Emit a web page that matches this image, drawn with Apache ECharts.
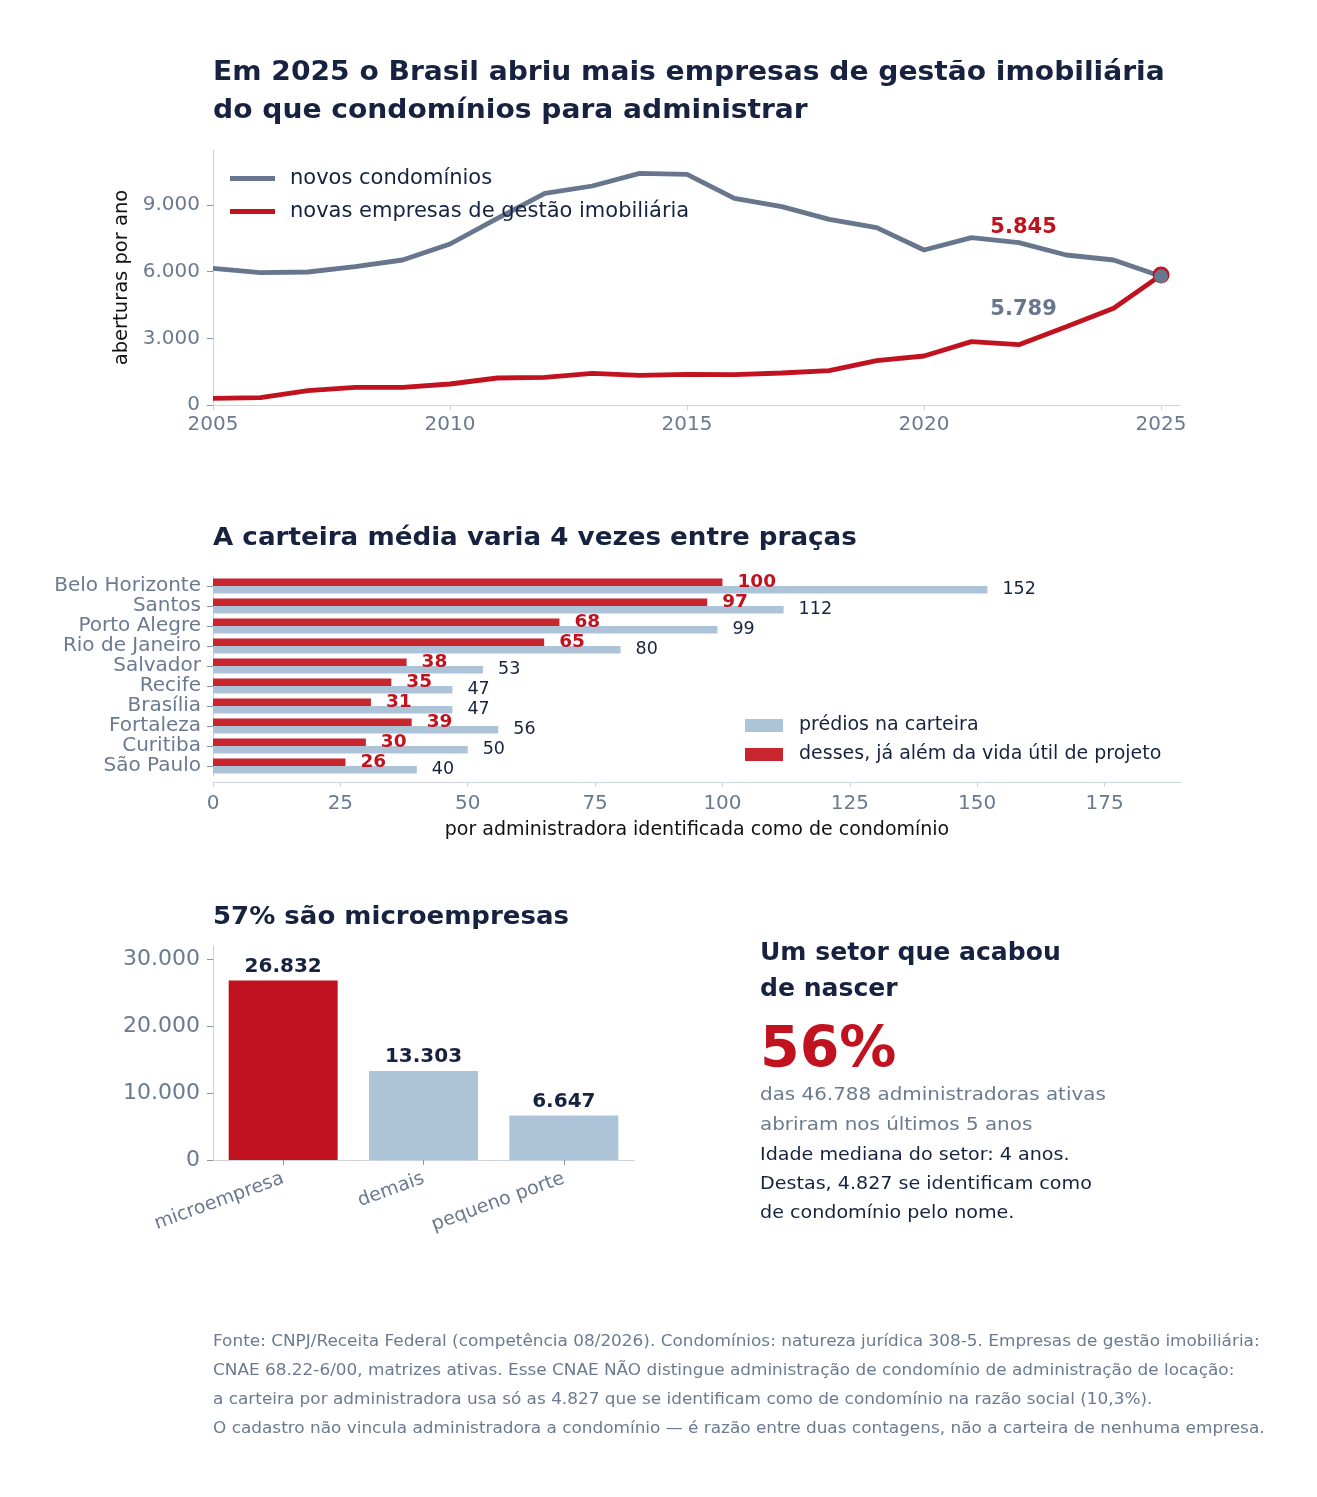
<!DOCTYPE html>
<html>
<head>
<meta charset="utf-8">
<script src="https://cdn.jsdelivr.net/npm/echarts@6/dist/echarts.min.js"></script>
<style>
  html, body { margin: 0; padding: 0; background: #fff; }
  #chart { width: 1317px; height: 1497px; }
</style>
</head>
<body>
<div id="chart"></div>
<script>
// dados
const anos = [2005, 2006, 2007, 2008, 2009, 2010, 2011, 2012, 2013, 2014, 2015,
              2016, 2017, 2018, 2019, 2020, 2021, 2022, 2023, 2024, 2025];
const novosCondominios = [6150, 5955, 5985, 6225, 6525, 7245, 8400, 9525, 9855, 10425, 10380,
                          9300, 8925, 8355, 7980, 6975, 7530, 7305, 6750, 6525, 5789];
const novasEmpresas = [300, 330, 645, 795, 795, 945, 1215, 1245, 1425, 1335, 1380,
                       1365, 1440, 1545, 1995, 2205, 2850, 2715, 3525, 4350, 5845];
const ticksAnos = [2005, 2010, 2015, 2020, 2025];
const ticksAberturas = [0, 3000, 6000, 9000];

const pracas = ['Belo Horizonte', 'Santos', 'Porto Alegre', 'Rio de Janeiro', 'Salvador',
                'Recife', 'Brasília', 'Fortaleza', 'Curitiba', 'São Paulo'];
const prediosCarteira = [152, 112, 99, 80, 53, 47, 47, 56, 50, 40];
const alemVidaUtil = [100, 97, 68, 65, 38, 35, 31, 39, 30, 26];
const ticksCarteira = [0, 25, 50, 75, 100, 125, 150, 175];

const portes = ['microempresa', 'demais', 'pequeno porte'];
const empresasPorte = [26832, 13303, 6647];
const ticksPorte = [0, 10000, 20000, 30000];

const NAVY = '#16223f';
const GRAY = '#67768c';
const LABEL = '#6b7a90';
const RED = '#c1121f';
const RED_BAR = '#c8252f';
const BLUE = '#adc3d8';
const AXIS = '#cdd4de';
const TICK = '#8a96a8';
const FONT = 'DejaVu Sans';

// separador de milhar à brasileira
const fmt = n => String(n).replace(/\B(?=(\d{3})+(?!\d))/g, '.');

const ultimo = anos.length - 1;

// texto solto: (x, y) = início da linha, no meio da altura; sx alarga um pouco
const texto = (x, y, txt, size, color, weight, sx) => ({
    type: 'text', x: x, y: y, scaleX: sx || 1,
    style: { text: txt, x: 0, y: 0, fill: color, verticalAlign: 'middle', align: 'left',
             font: (weight || 'normal') + ' ' + size + 'px "' + FONT + '"' }
});

const chart = echarts.init(document.getElementById('chart'));

const eixoBase = {
    axisLine: { show: true, lineStyle: { color: AXIS, width: 1.2 } },
    splitLine: { show: false }
};

const option = {
    animation: false,
    backgroundColor: '#fff',
    textStyle: { fontFamily: FONT },
    grid: [
        { left: 213, top: 150, width: 967, height: 255 },
        { left: 213, top: 576, width: 968, height: 200 },
        { left: 213, top: 946, width: 421, height: 214 }
    ],
    legend: [
        {
            data: ['novos condomínios', 'novas empresas de gestão imobiliária'],
            orient: 'vertical', left: 230, top: 168, padding: 0,
            icon: 'rect', itemWidth: 45, itemHeight: 5, itemGap: 12,
            selectedMode: false,
            textStyle: { fontSize: 21, color: NAVY, padding: [0, 0, 0, 10] }
        },
        {
            data: ['prédios na carteira', 'desses, já além da vida útil de projeto'],
            orient: 'vertical', left: 745, top: 716, padding: 0,
            icon: 'rect', itemWidth: 38, itemHeight: 13, itemGap: 10,
            selectedMode: false,
            textStyle: { fontSize: 19, color: NAVY, padding: [0, 0, 0, 11] }
        }
    ],
    xAxis: [
        Object.assign({}, eixoBase, {
            gridIndex: 0, type: 'value', min: 2005, max: 2025.4,
            axisTick: { show: true, customValues: ticksAnos, length: 5, lineStyle: { color: AXIS } },
            axisLabel: { customValues: ticksAnos, color: LABEL, fontSize: 20, margin: 10, formatter: v => String(v) }
        }),
        Object.assign({}, eixoBase, {
            gridIndex: 1, type: 'value', min: 0, max: 190, offset: 6,
            axisTick: { show: true, customValues: ticksCarteira, length: 5, lineStyle: { color: AXIS } },
            axisLabel: { customValues: ticksCarteira, color: LABEL, fontSize: 20, margin: 12 },
            name: 'por administradora identificada como de condomínio',
            nameLocation: 'middle', nameGap: 39,
            nameTextStyle: { color: '#111', fontSize: 19 }
        }),
        Object.assign({}, eixoBase, {
            gridIndex: 2, type: 'category', data: portes,
            axisTick: { show: true, alignWithLabel: true, length: 5, lineStyle: { color: TICK } },
            axisLabel: { color: LABEL, fontSize: 19, rotate: 20, margin: 18, interval: 0 }
        })
    ],
    yAxis: [
        Object.assign({}, eixoBase, {
            gridIndex: 0, type: 'value', min: 0, max: 11475,
            axisTick: { show: true, customValues: ticksAberturas, length: 6, lineStyle: { color: TICK } },
            axisLabel: { customValues: ticksAberturas, color: LABEL, fontSize: 20, margin: 13, formatter: fmt },
            name: 'aberturas por ano', nameLocation: 'middle', nameGap: 80,
            nameTextStyle: { color: '#111', fontSize: 19.5 }
        }),
        Object.assign({}, eixoBase, {
            gridIndex: 1, type: 'category', data: pracas, inverse: true,
            axisTick: { show: true, alignWithLabel: true, length: 6, lineStyle: { color: TICK } },
            axisLabel: { color: LABEL, fontSize: 20, margin: 12, interval: 0, padding: [3, 0, 0, 0] }
        }),
        Object.assign({}, eixoBase, {
            gridIndex: 2, type: 'value', min: 0, max: 32000,
            axisTick: { show: true, customValues: ticksPorte, length: 6, lineStyle: { color: TICK } },
            axisLabel: { customValues: ticksPorte, color: LABEL, fontSize: 22, margin: 13, formatter: fmt }
        })
    ],
    series: [
        {
            name: 'novas empresas de gestão imobiliária', type: 'line',
            xAxisIndex: 0, yAxisIndex: 0,
            symbol: 'none', lineStyle: { color: RED, width: 4.8 }, itemStyle: { color: RED },
            data: anos.map((a, i) => i === ultimo
                ? { value: [a, novasEmpresas[i]], symbol: 'circle', symbolSize: 17 }
                : [a, novasEmpresas[i]]),
            markPoint: {
                symbol: 'circle', symbolSize: 0,
                label: { show: true, position: 'inside', color: RED, fontWeight: 'bold', fontSize: 21,
                         formatter: () => fmt(novasEmpresas[ultimo]) },
                data: [{ coord: [2022.1, 7990] }]
            }
        },
        {
            name: 'novos condomínios', type: 'line',
            xAxisIndex: 0, yAxisIndex: 0,
            symbol: 'none', lineStyle: { color: GRAY, width: 4.8 }, itemStyle: { color: GRAY },
            data: anos.map((a, i) => i === ultimo
                ? { value: [a, novosCondominios[i]], symbol: 'circle', symbolSize: 14 }
                : [a, novosCondominios[i]]),
            markPoint: {
                symbol: 'circle', symbolSize: 0,
                label: { show: true, position: 'inside', color: GRAY, fontWeight: 'bold', fontSize: 21,
                         formatter: () => fmt(novosCondominios[ultimo]) },
                data: [{ coord: [2022.1, 4275] }]
            }
        },
        {
            name: 'desses, já além da vida útil de projeto', type: 'bar',
            xAxisIndex: 1, yAxisIndex: 1,
            barWidth: 7.5, barGap: '0%',
            itemStyle: { color: RED_BAR },
            label: { show: true, position: 'right', distance: 15, color: RED, fontWeight: 'bold', fontSize: 18.5 },
            data: alemVidaUtil
        },
        {
            name: 'prédios na carteira', type: 'bar',
            xAxisIndex: 1, yAxisIndex: 1,
            barWidth: 7.5, barGap: '0%',
            itemStyle: { color: BLUE },
            label: { show: true, position: 'right', distance: 15, color: NAVY, fontSize: 17.5 },
            data: prediosCarteira
        },
        {
            name: 'porte', type: 'bar',
            xAxisIndex: 2, yAxisIndex: 2,
            barWidth: 109,
            label: { show: true, position: 'top', distance: 4, color: NAVY, fontWeight: 'bold', fontSize: 20,
                     formatter: p => fmt(p.value) },
            data: empresasPorte.map((v, i) => ({ value: v, itemStyle: { color: i === 0 ? RED : BLUE } }))
        }
    ],
    graphic: [
        texto(213, 73.5, 'Em 2025 o Brasil abriu mais empresas de gestão imobiliária', 26, NAVY, 'bold', 1.082),
        texto(213, 111.5, 'do que condomínios para administrar', 26, NAVY, 'bold', 1.082),
        texto(213, 538.5, 'A carteira média varia 4 vezes entre praças', 25, NAVY, 'bold', 1.047),
        texto(213, 917.5, '57% são microempresas', 25, NAVY, 'bold', 1.041),
        texto(760, 954, 'Um setor que acabou', 24, NAVY, 'bold', 1.045),
        texto(760, 990, 'de nascer', 24, NAVY, 'bold', 1.045),
        texto(760, 1052, '56%', 57, RED, 'bold'),
        texto(760, 1095, 'das 46.788 administradoras ativas', 18, LABEL, 'normal', 1.106),
        texto(760, 1125, 'abriram nos últimos 5 anos', 18, LABEL, 'normal', 1.106),
        texto(760, 1155, 'Idade mediana do setor: 4 anos.', 17.5, NAVY, 'normal', 1.092),
        texto(760, 1184, 'Destas, 4.827 se identificam como', 17.5, NAVY, 'normal', 1.092),
        texto(760, 1213, 'de condomínio pelo nome.', 17.5, NAVY, 'normal', 1.092),
        texto(213, 1341.5, 'Fonte: CNPJ/Receita Federal (competência 08/2026). Condomínios: natureza jurídica 308-5. Empresas de gestão imobiliária:', 16, LABEL, 'normal', 1.055),
        texto(213, 1370.5, 'CNAE 68.22-6/00, matrizes ativas. Esse CNAE NÃO distingue administração de condomínio de administração de locação:', 16, LABEL, 'normal', 1.055),
        texto(213, 1399.5, 'a carteira por administradora usa só as 4.827 que se identificam como de condomínio na razão social (10,3%).', 16, LABEL, 'normal', 1.055),
        texto(213, 1428.5, 'O cadastro não vincula administradora a condomínio — é razão entre duas contagens, não a carteira de nenhuma empresa.', 16, LABEL, 'normal', 1.055)
    ]
};

chart.setOption(option);
</script>
</body>
</html>
